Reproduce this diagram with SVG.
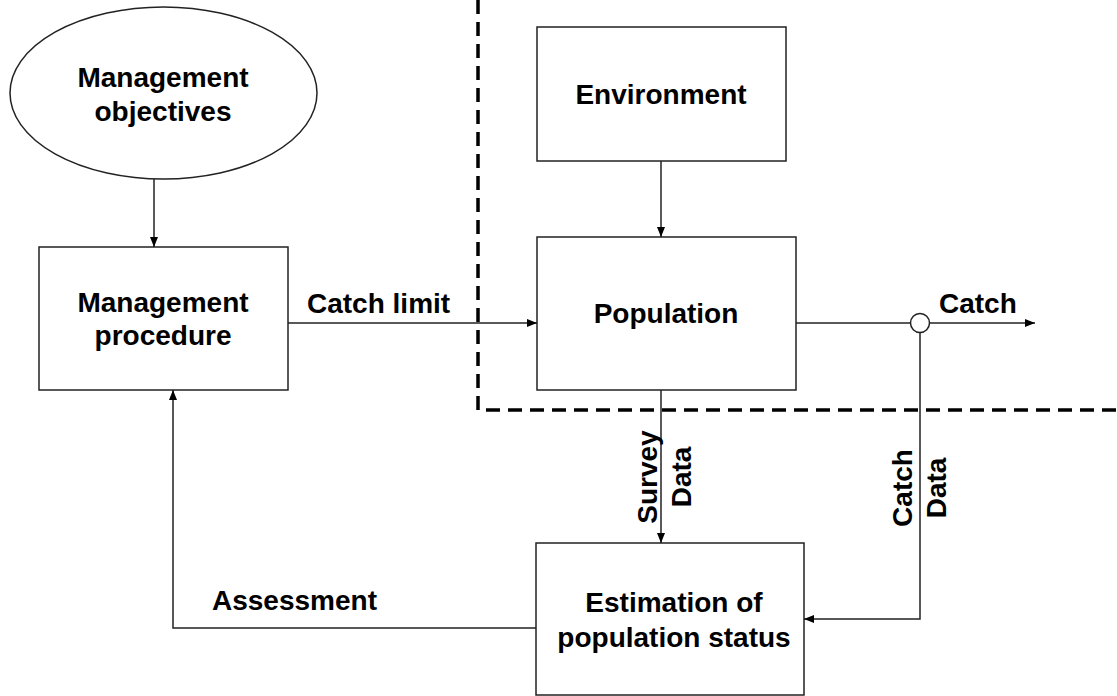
<svg xmlns="http://www.w3.org/2000/svg" width="1117" height="696" viewBox="0 0 1117 696">
<defs>
<style>
.box{fill:#fff;stroke:#222;stroke-width:1.5}
.ln{fill:none;stroke:#222;stroke-width:1.5}
.t{font-family:"Liberation Sans",Arial,sans-serif;font-weight:bold;font-size:28px;fill:#000}
.c{text-anchor:middle}
.dash{fill:none;stroke:#000;stroke-width:3.5;stroke-dasharray:14 8}
</style>
<marker id="ah" viewBox="0 0 10 8" refX="10" refY="4" markerWidth="10" markerHeight="8" markerUnits="userSpaceOnUse" orient="auto">
<path d="M0,0 L10,4 L0,8 Z" fill="#000"/>
</marker>
</defs>
<rect width="1117" height="696" fill="#fff"/>
<path class="dash" d="M478,0 V410 H1117"/>
<g id="objectives">
<ellipse class="box" cx="163.5" cy="93" rx="153.5" ry="86"/>
<text class="t c" x="163" y="87">Management</text>
<text class="t c" x="163" y="121">objectives</text>
</g>
<g id="procedure">
<rect class="box" x="39" y="247" width="249" height="143"/>
<text class="t c" x="163" y="312">Management</text>
<text class="t c" x="163" y="345">procedure</text>
</g>
<g id="environment">
<rect class="box" x="537" y="27" width="249" height="134"/>
<text class="t c" x="661" y="104">Environment</text>
</g>
<g id="population">
<rect class="box" x="537" y="237" width="259" height="153"/>
<text class="t c" x="666" y="323">Population</text>
</g>
<g id="estimation">
<rect class="box" x="536" y="543" width="268" height="152"/>
<text class="t c" x="674" y="612">Estimation of</text>
<text class="t c" x="674" y="647">population status</text>
</g>
<g id="catch-node">
<circle class="box" cx="920" cy="323" r="9.5"/>
</g>
<g id="connectors">
<line class="ln" x1="154" y1="179" x2="154" y2="247" marker-end="url(#ah)"/>
<line class="ln" x1="661" y1="161" x2="661" y2="237" marker-end="url(#ah)"/>
<line class="ln" x1="288" y1="323" x2="537" y2="323" marker-end="url(#ah)"/>
<line class="ln" x1="796" y1="323" x2="910.5" y2="323"/>
<line class="ln" x1="929.5" y1="323" x2="1035" y2="323" marker-end="url(#ah)"/>
<line class="ln" x1="661" y1="390" x2="661" y2="543" marker-end="url(#ah)"/>
<polyline class="ln" points="920,332.5 920,619 804,619" marker-end="url(#ah)"/>
<polyline class="ln" points="536,628 173,628 173,390" marker-end="url(#ah)"/>
<text class="t" x="307" y="313">Catch limit</text>
<text class="t" x="939" y="313">Catch</text>
<text class="t" x="212" y="610">Assessment</text>
<text class="t c" transform="translate(0 477) rotate(-90)"><tspan x="0" y="657">Survey</tspan><tspan x="0" y="691">Data</tspan></text>
<text class="t c" transform="translate(0 488) rotate(-90)"><tspan x="0" y="912">Catch</tspan><tspan x="0" y="946">Data</tspan></text>
</g>
</svg>
